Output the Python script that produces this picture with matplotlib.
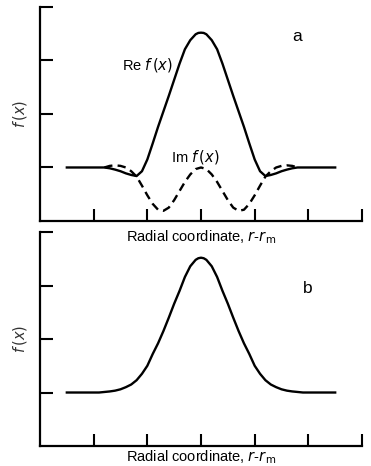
import numpy as np
import matplotlib.pyplot as plt

plt.rcParams['font.family'] = ['Liberation Sans', 'DejaVu Sans']

# panel a: real part (solid) and imaginary part (dashed)
x_re = [0.5, 0.8, 1.0, 1.1, 1.2, 1.3, 1.4, 1.5, 1.6, 1.7, 1.8, 1.9, 2.0, 2.1, 2.2, 2.3, 2.4, 2.5,
        2.6, 2.7, 2.8, 2.9, 2.95, 3.0, 3.05, 3.1, 3.2, 3.3, 3.4, 3.5, 3.6, 3.7, 3.8, 3.9, 4.0, 4.1, 4.2,
        4.3, 4.4, 4.5, 4.6, 4.7, 4.8, 4.9, 5.0, 5.2, 5.5]
re_f = [1.0, 1.0, 1.0, 1.0, 1.0, 0.985, 0.96, 0.93, 0.89, 0.86, 0.84, 0.93, 1.15, 1.45, 1.76, 2.05, 2.34, 2.64,
        2.94, 3.21, 3.38, 3.49, 3.515, 3.52, 3.515, 3.49, 3.38, 3.21, 2.94, 2.64, 2.34, 2.05, 1.76, 1.45, 1.15, 0.93, 0.84,
        0.86, 0.89, 0.93, 0.96, 0.985, 1.0, 1.0, 1.0, 1.0, 1.0]

x_im = [1.2, 1.3, 1.4, 1.5, 1.6, 1.7, 1.8, 1.9, 2.0, 2.1, 2.2, 2.3, 2.4, 2.5, 2.6, 2.7, 2.8, 2.9,
        3.0, 3.1, 3.2, 3.3, 3.4, 3.5, 3.6, 3.7, 3.8, 3.9, 4.0, 4.1, 4.2, 4.3, 4.4, 4.5, 4.6, 4.7, 4.8]
im_f = [1.0, 1.03, 1.04, 1.03, 1.0, 0.93, 0.83, 0.66, 0.48, 0.32, 0.21, 0.19, 0.25, 0.39, 0.56, 0.73, 0.87, 0.97,
        1.0, 0.97, 0.87, 0.73, 0.56, 0.39, 0.25, 0.19, 0.21, 0.32, 0.48, 0.66, 0.83, 0.93, 1.0, 1.03, 1.04, 1.03, 1.0]

# panel b
x_b = [0.5, 0.8, 1.0, 1.1, 1.2, 1.3, 1.4, 1.5, 1.6, 1.7, 1.8, 1.9, 2.0, 2.1, 2.2, 2.3, 2.4, 2.5,
       2.6, 2.7, 2.8, 2.9, 2.95, 3.0, 3.05, 3.1, 3.2, 3.3, 3.4, 3.5, 3.6, 3.7, 3.8, 3.9, 4.0, 4.1, 4.2,
       4.3, 4.4, 4.5, 4.6, 4.7, 4.8, 4.9, 5.0, 5.2, 5.5]
b_f = [1.0, 1.0, 1.0, 1.0, 1.01, 1.02, 1.035, 1.06, 1.10, 1.15, 1.23, 1.35, 1.50, 1.72, 1.92, 2.15, 2.40, 2.66,
       2.90, 3.16, 3.36, 3.48, 3.51, 3.52, 3.51, 3.48, 3.36, 3.16, 2.90, 2.66, 2.40, 2.15, 1.92, 1.72, 1.50, 1.35, 1.23,
       1.15, 1.10, 1.06, 1.035, 1.02, 1.01, 1.0, 1.0, 1.0, 1.0]

xlabel_txt = 'Radial coordinate, $\\it{r}$-$\\it{r}$$_\\mathrm{m}$'

fig = plt.figure(figsize=(3.71, 4.66), dpi=100)
ax1 = fig.add_axes([0.1078, 0.5258, 0.868, 0.4592])
ax2 = fig.add_axes([0.1078, 0.0429, 0.868, 0.4592])
ax2.patch.set_visible(False)

def style(ax, pad):
    ax.set_xlim(0, 6)
    ax.set_ylim(0, 4)
    ax.set_xticks([1, 2, 3, 4, 5, 6])
    ax.set_yticks([1, 2, 3, 4])
    ax.tick_params(direction='in', length=9, width=1.5, labelbottom=False, labelleft=False)
    for s in ['top', 'right']:
        ax.spines[s].set_visible(False)
    for s in ['left', 'bottom']:
        ax.spines[s].set_linewidth(1.6)
    ax.set_ylabel('$\\it{f}$$\\,(\\it{x})$', fontsize=10.5, color='#333333', labelpad=8)
    ax.set_xlabel(xlabel_txt, fontsize=10.5, labelpad=pad)

ax1.plot(x_re, re_f, color='black', lw=1.7)
ax1.plot(x_im, im_f, color='black', lw=1.7, linestyle=(0, (3.5, 2.2)))
ax1.text(2.01, 2.92, 'Re $\\it{f}$$\\,(\\it{x})$', fontsize=10.5, ha='center', va='center')
ax1.text(2.89, 1.2, 'Im $\\it{f}$$\\,(\\it{x})$', fontsize=10.5, ha='center', va='center')
ax1.text(4.8, 3.44, 'a', fontsize=12.5, ha='center', va='center')
style(ax1, 5)

ax2.plot(x_b, b_f, color='black', lw=1.7)
ax2.text(4.99, 2.95, 'b', fontsize=12.5, ha='center', va='center')
style(ax2, 2)

fig.savefig('out.png', dpi=100)
